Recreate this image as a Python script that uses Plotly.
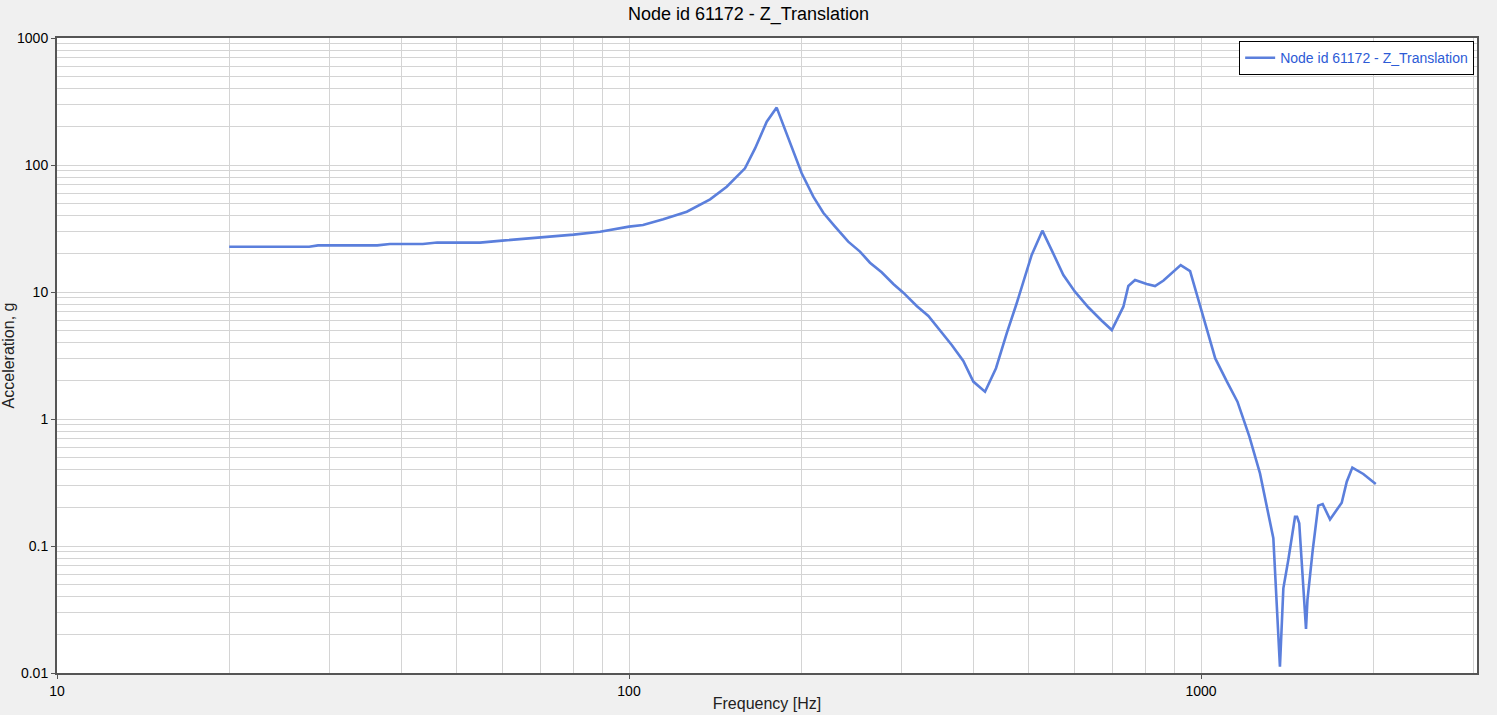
import plotly.graph_objects as go

# frequency response
freq_hz = [20, 27.6, 28.6, 36.3, 38.2, 43.6, 46.2, 54.9, 60, 70, 80, 89, 100, 105.8, 114.8,
           126.2, 138.6, 148.2, 159.5, 166.1, 174.1, 181.2, 191.2, 200.4, 210, 218.6, 229.2,
           241.7, 253.4, 263.8, 276.5, 289.8, 301.7, 318.4, 333.7, 349.8, 366.6, 384.1, 399.9,
           419.2, 438.1, 457.4, 476.2, 505.8, 528, 549.7, 574.6, 602, 635.3, 670.7, 698.3,
           731.6, 746.4, 766.8, 803.5, 831, 860, 921.5, 957, 1009, 1059, 1110, 1158, 1215,
           1268, 1338, 1374, 1393, 1421, 1460, 1472, 1485, 1526, 1535, 1568, 1603, 1632,
           1681, 1762, 1798, 1839, 1922, 2021]
accel_g = [22.7, 22.7, 23.3, 23.3, 23.9, 23.9, 24.5, 24.5, 25.4, 26.8, 28.3, 29.8, 32.7, 33.7, 37.4,
           42.9, 53.7, 67.5, 94.2, 135, 219, 283, 148, 86, 56.3, 42.1, 32.7,
           24.9, 20.8, 17.0, 14.3, 11.56, 9.88, 7.76, 6.47, 5.02, 3.83, 2.86, 1.97,
           1.64, 2.51, 4.73, 8.15, 19.6, 30.4, 20.8, 13.6, 10.06, 7.58, 5.94, 5.02,
           7.66, 11.15, 12.43, 11.56, 11.15, 12.3, 16.3, 14.6, 6.39, 3.0, 1.97, 1.37, 0.726,
           0.373, 0.115, 0.0112, 0.0464, 0.0776, 0.170, 0.170, 0.151, 0.0222, 0.0376, 0.0931, 0.208, 0.214,
           0.162, 0.219, 0.321, 0.414, 0.369, 0.308]

y_tickvals = [0.01, 0.1, 1, 10, 100, 1000]
y_ticktext = ["0.01", "0.1", "1", "10", "100", "1000"]
x_tickvals = [10, 100, 1000]
x_ticktext = ["10", "100", "1000"]

name = "Node id 61172 - Z_Translation"

fig = go.Figure(go.Scatter(x=freq_hz, y=accel_g, mode="lines", name=name,
                           line=dict(color="#5b7fdc", width=2.6)))

axis_common = dict(type="log", showline=True, linecolor="#555555", linewidth=2, mirror=True,
                   showgrid=True, gridcolor="#d4d4d4", gridwidth=1, zeroline=False,
                   ticks="outside", ticklen=4, tickcolor="#555555", automargin=False,
                   tickfont=dict(size=14, color="black"),
                   minor=dict(dtick="D1", showgrid=True, gridcolor="#d4d4d4", gridwidth=1, ticks=""))

fig.update_xaxes(range=[1, 3.4825], tickvals=x_tickvals, ticktext=x_ticktext,
                 title=dict(text="Frequency [Hz]", font=dict(size=16, color="#222222"), standoff=0),
                 **axis_common)
fig.update_yaxes(range=[-2, 3], tickvals=y_tickvals, ticktext=y_ticktext,
                 title=dict(text="Acceleration, g", font=dict(size=16, color="#222222"), standoff=2),
                 **axis_common)

fig.update_layout(
    width=1497, height=715,
    paper_bgcolor="#f0f0f0", plot_bgcolor="white",
    font=dict(family="Liberation Sans, Arial, sans-serif"),
    title=dict(text=name, x=0.5, xanchor="center", y=0.99, yanchor="top",
               font=dict(size=18, color="black")),
    margin=dict(l=57, r=20, t=38, b=42),
    showlegend=True,
    legend=dict(x=0.998, y=0.995, xanchor="right", yanchor="top", bgcolor="white",
                bordercolor="black", borderwidth=1, font=dict(size=14, color="#2d5bd6")),
)

fig.write_html("out.html", config={"displayModeBar": False},
               post_script="document.body.style.margin='0';document.body.style.overflow='hidden';")
